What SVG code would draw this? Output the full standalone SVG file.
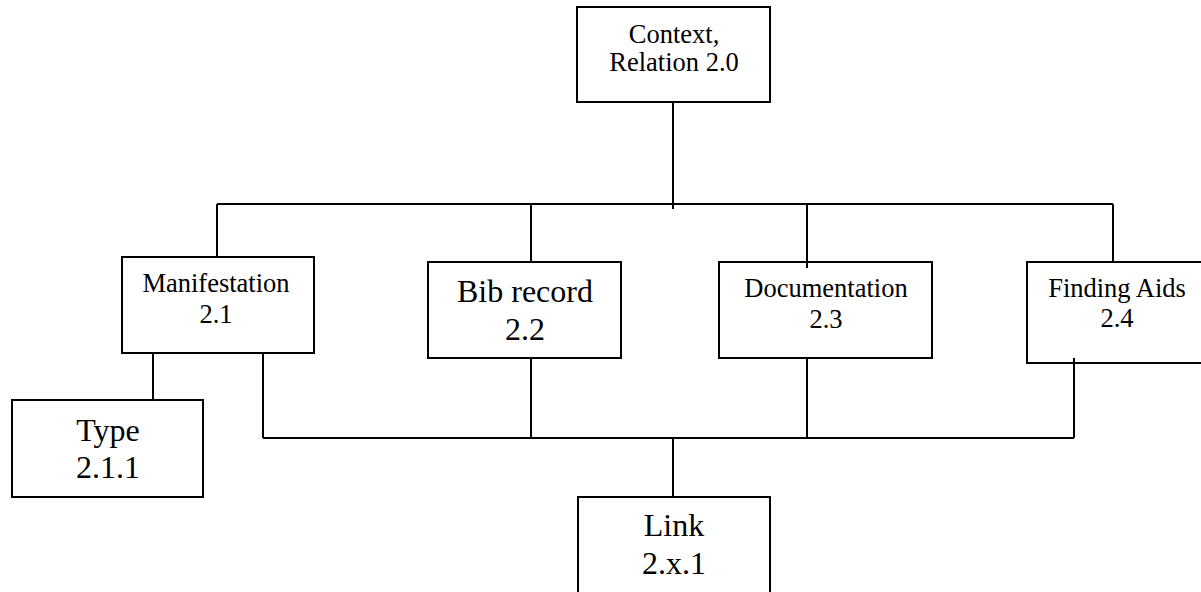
<svg xmlns="http://www.w3.org/2000/svg" width="1201" height="592" viewBox="0 0 1201 592">
<style>
.box{fill:#fff;stroke:#000;stroke-width:2}
.ln{fill:none;stroke:#000;stroke-width:2}
.s{font-family:"Liberation Serif","Times New Roman",serif;font-size:26.5px;fill:#000;text-anchor:middle}
.b{font-family:"Liberation Serif","Times New Roman",serif;font-size:32px;fill:#000;text-anchor:middle}
</style>
<rect width="1201" height="592" fill="#fff"/>
<g id="context">
<rect class="box" x="577" y="7" width="193" height="95"/>
<text class="s" x="674" y="43">Context,</text>
<text class="s" x="674" y="71">Relation 2.0</text>
</g>
<g id="manifestation">
<rect class="box" x="122" y="257" width="192" height="96"/>
<text class="s" x="216" y="291.5">Manifestation</text>
<text class="s" x="216" y="323">2.1</text>
</g>
<g id="type">
<rect class="box" x="12" y="400" width="191" height="97"/>
<text class="b" x="108" y="440.5">Type</text>
<text class="b" x="108" y="478">2.1.1</text>
</g>
<g id="bibrecord">
<rect class="box" x="428" y="262" width="193" height="96"/>
<text class="b" x="525" y="301.5">Bib record</text>
<text class="b" x="525" y="340">2.2</text>
</g>
<g id="documentation">
<rect class="box" x="719" y="262" width="213" height="96"/>
<text class="s" x="826" y="297">Documentation</text>
<text class="s" x="826" y="328">2.3</text>
</g>
<g id="findingaids">
<rect class="box" x="1027" y="262" width="180" height="101"/>
<text class="s" x="1117" y="297">Finding Aids</text>
<text class="s" x="1117" y="327">2.4</text>
</g>
<g id="link">
<rect class="box" x="578" y="497" width="192" height="100"/>
<text class="b" x="674" y="536">Link</text>
<text class="b" x="674" y="574">2.x.1</text>
</g>
<g id="connectors">
<path class="ln" d="M673 102V209"/>
<path class="ln" d="M217 204H1113"/>
<path class="ln" d="M217 204V257"/>
<path class="ln" d="M531 204V262"/>
<path class="ln" d="M807 204V268"/>
<path class="ln" d="M1113 204V262"/>
<path class="ln" d="M153 353V400"/>
<path class="ln" d="M263 353V438"/>
<path class="ln" d="M263 438H1074"/>
<path class="ln" d="M531 358V438"/>
<path class="ln" d="M807 358V438"/>
<path class="ln" d="M1074 358V438"/>
<path class="ln" d="M673 438V497"/>
</g>
</svg>
